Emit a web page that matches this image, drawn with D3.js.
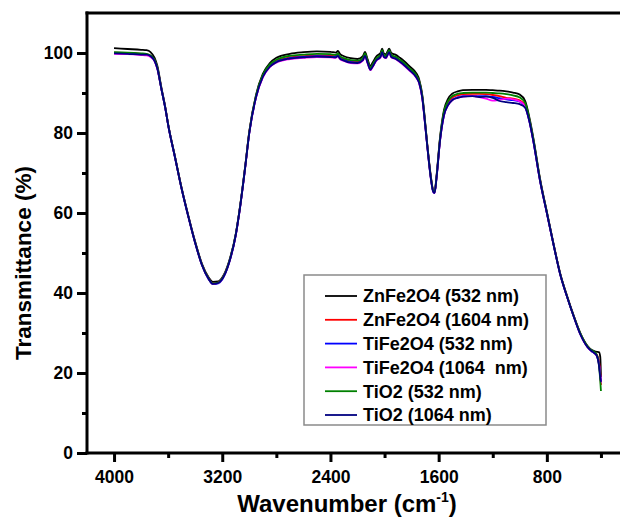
<!DOCTYPE html>
<html>
<head>
<meta charset="utf-8">
<script src="https://cdn.jsdelivr.net/npm/d3@7"></script>
<style>
  body { margin: 0; background: #fff; }
  text { font-family: "Liberation Sans", Arial, sans-serif; font-weight: bold; }
</style>
</head>
<body>
<div id="vis-ftir"></div>
<script>
// Data ----------------------------------------------------------------------------------------------------------------
const wavenumbers = [4000, 3900, 3800, 3760, 3730, 3700, 3680, 3650, 3620, 3600,
  3550, 3500, 3450, 3400, 3350, 3300, 3270, 3230, 3200, 3150,
  3100, 3070, 3030, 3000, 2950, 2900, 2850, 2800, 2700, 2600,
  2500, 2400, 2360, 2345, 2330, 2300, 2250, 2200, 2160, 2145,
  2125, 2105, 2090, 2060, 2030, 2018, 2005, 1990, 1978, 1966,
  1950, 1920, 1886, 1850, 1812, 1780, 1763, 1744, 1720, 1707,
  1685, 1657, 1640, 1630, 1615, 1590, 1560, 1530, 1500, 1460,
  1420, 1350, 1300, 1250, 1200, 1150, 1100, 1050, 1000, 960,
  930, 900, 850, 800, 750, 700, 650, 600, 550, 500,
  470, 450, 430, 415, 405, 400];

const znFe532 = [101.2, 101.0, 100.8, 100.7, 100.2, 98.8, 96.8, 91.4, 86.3, 82.2,
  74.2, 66.2, 59.2, 52.8, 47.3, 43.9, 42.8, 42.9, 43.9, 47.9,
  54.8, 61.3, 71.8, 80.4, 89.6, 94.8, 97.4, 98.8, 99.8, 100.2,
  100.4, 100.3, 100.1, 100.5, 99.8, 99.2, 98.7, 98.5, 99.2, 100.3,
  98.4, 96.7, 97.5, 99.2, 100.0, 101.1, 99.9, 99.7, 100.4, 101.1,
  100.0, 99.6, 98.8, 97.8, 96.6, 95.6, 94.8, 93.4, 89.3, 85.2,
  77.5, 69.0, 65.6, 65.3, 69.5, 78.8, 85.8, 88.6, 89.8, 90.4,
  90.7, 90.8, 90.8, 90.8, 90.7, 90.6, 90.4, 90.1, 89.6, 88.0,
  84.0, 78.8, 68.5, 60.3, 52.2, 44.7, 39.2, 34.2, 29.8, 26.8,
  25.8, 25.5, 25.3, 25.2, 24.0, 19.0];

const znFe1604 = [100.1, 100.0, 99.8, 99.7, 99.3, 98.2, 96.3, 91.1, 86.1, 82.1,
  74.1, 66.1, 59.1, 52.6, 47.1, 43.6, 42.4, 42.6, 43.6, 47.6,
  54.6, 61.1, 71.6, 80.2, 89.2, 94.3, 96.8, 98.0, 98.9, 99.2,
  99.4, 99.3, 99.2, 99.6, 98.9, 98.4, 97.9, 97.8, 98.5, 99.6,
  97.8, 96.1, 96.8, 98.5, 99.3, 100.5, 99.3, 99.1, 99.8, 100.5,
  99.3, 98.9, 98.1, 97.1, 95.9, 94.9, 94.1, 92.8, 88.8, 84.8,
  77.2, 68.7, 65.4, 65.1, 69.2, 78.3, 85.0, 87.6, 88.8, 89.4,
  89.7, 89.8, 89.8, 89.7, 89.5, 89.2, 88.8, 88.6, 88.2, 86.8,
  83.3, 78.2, 68.2, 60.1, 52.1, 44.6, 39.1, 34.1, 29.6, 26.6,
  25.6, 25.2, 24.6, 23.0, 20.0, 17.0];

const tiFe532 = [100.0, 99.9, 99.7, 99.6, 99.2, 98.1, 96.2, 91.0, 86.0, 82.0,
  74.0, 66.0, 59.0, 52.5, 47.0, 43.4, 42.2, 42.4, 43.4, 47.5,
  54.5, 61.0, 71.5, 80.0, 89.0, 94.1, 96.6, 97.8, 98.7, 99.0,
  99.2, 99.1, 99.0, 99.4, 98.7, 98.2, 97.7, 97.6, 98.3, 99.4,
  97.6, 95.9, 96.6, 98.3, 99.1, 100.3, 99.1, 98.9, 99.6, 100.3,
  99.1, 98.7, 97.9, 96.9, 95.7, 94.7, 93.9, 92.6, 88.6, 84.6,
  77.0, 68.5, 65.3, 65.0, 69.0, 78.1, 84.6, 87.1, 88.3, 88.9,
  89.2, 89.3, 89.2, 89.2, 89.0, 88.7, 88.4, 88.2, 87.8, 86.5,
  83.1, 78.0, 68.0, 60.0, 52.0, 44.5, 39.0, 34.0, 29.5, 26.5,
  25.5, 25.0, 24.3, 22.5, 19.5, 18.0];

const tiFe1064 = [99.8, 99.7, 99.5, 99.4, 99.0, 97.9, 96.0, 91.0, 86.0, 82.0,
  74.0, 66.0, 59.0, 52.5, 47.0, 43.5, 42.3, 42.5, 43.5, 47.5,
  54.5, 61.0, 71.5, 80.0, 88.9, 93.9, 96.4, 97.6, 98.5, 98.8,
  99.0, 98.9, 98.8, 99.2, 98.5, 98.0, 97.5, 97.4, 98.1, 99.2,
  97.4, 95.7, 96.4, 98.1, 98.9, 100.1, 98.9, 98.7, 99.4, 100.1,
  98.9, 98.5, 97.7, 96.7, 95.5, 94.5, 93.7, 92.4, 88.4, 84.4,
  77.0, 68.5, 65.3, 65.0, 69.0, 78.0, 84.5, 87.0, 88.2, 88.8,
  89.1, 89.3, 89.0, 88.6, 88.1, 88.3, 88.6, 88.4, 87.9, 86.6,
  83.1, 78.0, 68.0, 60.0, 52.0, 44.5, 39.0, 34.0, 29.5, 26.5,
  25.5, 25.0, 24.2, 22.3, 19.3, 17.5];

const tiO2532 = [100.2, 100.1, 99.9, 99.8, 99.4, 98.3, 96.4, 91.1, 86.1, 82.1,
  74.1, 66.1, 59.1, 52.6, 47.1, 43.6, 42.4, 42.6, 43.6, 47.7,
  54.7, 61.2, 71.7, 80.3, 89.4, 94.5, 97.1, 98.3, 99.3, 99.6,
  99.8, 99.7, 99.5, 99.9, 99.2, 98.7, 98.2, 98.1, 98.8, 99.9,
  98.0, 96.3, 97.0, 98.7, 99.5, 100.7, 99.5, 99.3, 100.0, 100.7,
  99.5, 99.1, 98.3, 97.3, 96.1, 95.1, 94.3, 93.0, 89.0, 85.0,
  77.3, 68.8, 65.5, 65.2, 69.3, 78.6, 85.4, 88.0, 89.2, 89.8,
  90.0, 90.1, 90.1, 90.1, 90.0, 89.9, 89.7, 89.4, 88.9, 87.5,
  83.6, 78.5, 68.3, 60.2, 52.1, 44.6, 39.1, 34.1, 29.7, 26.7,
  25.7, 25.3, 24.5, 22.0, 18.0, 15.5];

const tiO21064 = [99.9, 99.8, 99.6, 99.6, 99.2, 98.0, 96.1, 91.0, 86.0, 82.0,
  74.0, 66.0, 59.0, 52.5, 47.0, 43.5, 42.3, 42.5, 43.5, 47.5,
  54.5, 61.0, 71.5, 80.0, 89.0, 94.0, 96.5, 97.7, 98.6, 98.9,
  99.1, 99.0, 98.9, 99.3, 98.6, 98.1, 97.6, 97.5, 98.2, 99.3,
  97.5, 95.8, 96.5, 98.2, 99.0, 100.2, 99.0, 98.8, 99.5, 100.2,
  99.0, 98.6, 97.8, 96.8, 95.6, 94.6, 93.8, 92.5, 88.5, 84.5,
  77.0, 68.5, 65.3, 65.0, 69.0, 78.0, 84.5, 87.0, 88.2, 88.8,
  89.1, 89.2, 89.0, 89.1, 88.8, 88.0, 87.7, 87.5, 87.2, 86.3,
  83.0, 78.0, 68.0, 60.0, 52.0, 44.5, 39.0, 34.0, 29.5, 26.5,
  25.5, 25.0, 24.2, 22.0, 19.0, 17.8];

const seriesNames = ["ZnFe2O4 (532 nm)", "ZnFe2O4 (1604 nm)", "TiFe2O4 (532 nm)",
  "TiFe2O4 (1064  nm)", "TiO2 (532 nm)", "TiO2 (1064 nm)"];
const seriesValues = [znFe532, znFe1604, tiFe532, tiFe1064, tiO2532, tiO21064];
const seriesColors = ["#000000", "#ff0000", "#0000ff", "#ff00ff", "#008000", "#000080"];

const xMajorTicks = [4000, 3200, 2400, 1600, 800];
const xMinorTicks = [3600, 2800, 2000, 1200, 400];
const yMajorTicks = [0, 20, 40, 60, 80, 100];
const yMinorTicks = [10, 30, 50, 70, 90];

// Canvas ---------------------------------------------------------------------------------------------------------------
const canvasWidth = 620;
const canvasHeight = 523;

const plotLeft = 87;
const plotRight = 628;
const plotTop = 13;
const plotBottom = 453;

const svg = d3.select("#vis-ftir")
  .append("svg")
  .attr("width", canvasWidth)
  .attr("height", canvasHeight)
  .style("display", "block");

const xScale = d3.scaleLinear()
  .domain([4200, 200])
  .range([plotLeft, plotRight]);
const yScale = d3.scaleLinear()
  .domain([0, 110])
  .range([plotBottom, plotTop]);

// Curves ---------------------------------------------------------------------------------------------------------------
const line = d3.line()
  .x(d => xScale(d[0]))
  .y(d => yScale(d[1]))
  .curve(d3.curveMonotoneX);

const chartGroup = svg.append("g");
seriesValues.forEach(function(values, i) {
  chartGroup.append("path")
    .datum(wavenumbers.map((w, j) => [w, values[j]]))
    .attr("d", line)
    .attr("fill", "none")
    .attr("stroke", seriesColors[i])
    .attr("stroke-width", 1.8)
    .attr("stroke-linejoin", "round");
});

// Axes -----------------------------------------------------------------------------------------------------------------
const axisStroke = 3;
const tickFontSize = 17.5;

const xAxis = svg.append("g")
  .attr("transform", "translate(0," + plotBottom + ")")
  .call(d3.axisBottom(xScale).tickValues(xMajorTicks).tickFormat(d3.format("d"))
    .tickSize(9).tickPadding(6).tickSizeOuter(0));
const xMinor = svg.append("g")
  .attr("transform", "translate(0," + plotBottom + ")")
  .call(d3.axisBottom(xScale).tickValues(xMinorTicks).tickSize(5).tickFormat("").tickSizeOuter(0));

const yAxis = svg.append("g")
  .attr("transform", "translate(" + plotLeft + ",0)")
  .call(d3.axisLeft(yScale).tickValues(yMajorTicks).tickFormat(d3.format("d"))
    .tickSize(10).tickPadding(4).tickSizeOuter(0));
const yMinor = svg.append("g")
  .attr("transform", "translate(" + plotLeft + ",0)")
  .call(d3.axisLeft(yScale).tickValues(yMinorTicks).tickSize(5).tickFormat("").tickSizeOuter(0));

[xAxis, xMinor, yAxis, yMinor].forEach(function(axis) {
  axis.selectAll("path").remove();
  axis.selectAll("line")
    .attr("stroke", "#000")
    .attr("stroke-width", axisStroke);
  axis.selectAll("text")
    .attr("fill", "#000")
    .style("font-size", tickFontSize + "px");
});
xAxis.selectAll("text").attr("dy", "0.85em");

// frame: left, bottom and top (right side is past the edge of the picture)
svg.append("line")
  .attr("x1", plotLeft).attr("x2", plotLeft)
  .attr("y1", plotTop).attr("y2", plotBottom)
  .attr("stroke", "#000").attr("stroke-width", axisStroke)
  .attr("stroke-linecap", "square");
svg.append("line")
  .attr("x1", plotLeft).attr("x2", plotRight)
  .attr("y1", plotBottom).attr("y2", plotBottom)
  .attr("stroke", "#000").attr("stroke-width", axisStroke)
  .attr("stroke-linecap", "square");
svg.append("line")
  .attr("x1", plotLeft).attr("x2", plotRight)
  .attr("y1", plotTop).attr("y2", plotTop)
  .attr("stroke", "#000").attr("stroke-width", axisStroke)
  .attr("stroke-linecap", "square");

// Axis titles ----------------------------------------------------------------------------------------------------------
svg.append("text")
  .text("Transmittance (%)")
  .attr("transform", "translate(31,263) rotate(-90)")
  .style("text-anchor", "middle")
  .style("font-size", "22.5px");

const xTitle = svg.append("text")
  .attr("x", 347)
  .attr("y", 512)
  .style("text-anchor", "middle")
  .style("font-size", "24px");
xTitle.append("tspan").text("Wavenumber (cm");
xTitle.append("tspan").text("-1").attr("dy", -10).style("font-size", "14px");
xTitle.append("tspan").text(")").attr("dy", 10);

// Legend ---------------------------------------------------------------------------------------------------------------
const legendFontSize = 18;
const legendRowSpacing = 23.8;

const legendGroup = svg.append("g")
  .attr("transform", "translate(304,275)");

legendGroup.append("rect")
  .attr("x", 0)
  .attr("y", 0)
  .attr("width", 242)
  .attr("height", 150)
  .attr("fill", "#fff")
  .attr("stroke", "#8a8a8a")
  .attr("stroke-width", 1.5);

seriesNames.forEach(function(name, i) {
  const rowY = 21 + i * legendRowSpacing;
  legendGroup.append("line")
    .attr("x1", 21).attr("x2", 53)
    .attr("y1", rowY).attr("y2", rowY)
    .attr("stroke", seriesColors[i])
    .attr("stroke-width", 1.8);
  legendGroup.append("text")
    .text(name)
    .attr("x", 59)
    .attr("y", rowY)
    .attr("dy", "0.35em")
    .style("white-space", "pre")
    .style("font-size", legendFontSize + "px");
});
</script>
</body>
</html>
